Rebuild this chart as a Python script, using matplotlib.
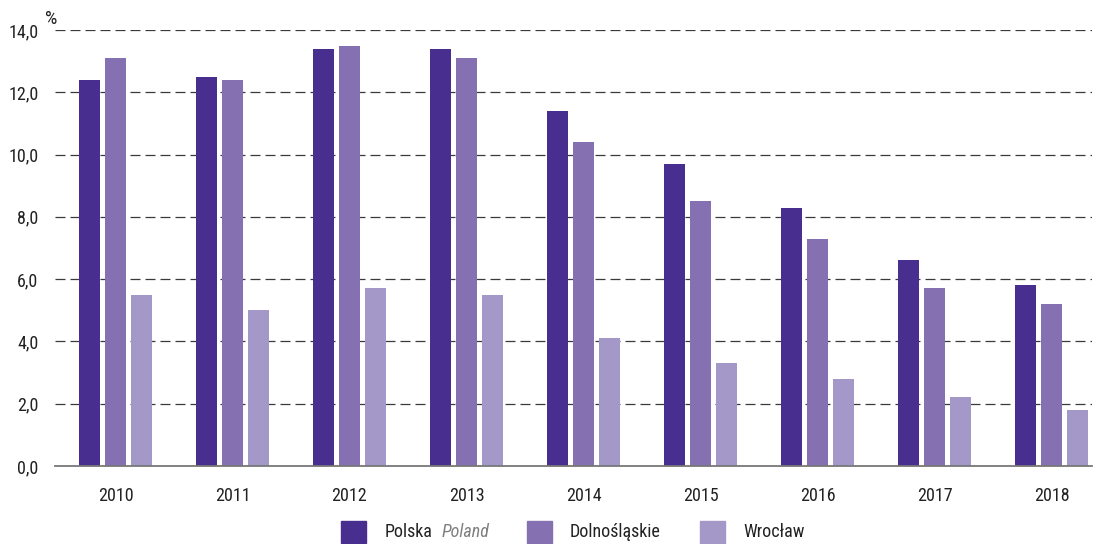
import matplotlib
matplotlib.use("Agg")
import matplotlib.pyplot as plt
import numpy as np
from matplotlib import font_manager as fm
from matplotlib.patches import Rectangle

years = ["2010", "2011", "2012", "2013", "2014", "2015", "2016", "2017", "2018"]
polska = [12.4, 12.5, 13.4, 13.4, 11.4, 9.7, 8.3, 6.6, 5.8]
dolnoslaskie = [13.1, 12.4, 13.5, 13.1, 10.4, 8.5, 7.3, 5.7, 5.2]
wroclaw = [5.5, 5.0, 5.7, 5.5, 4.1, 3.3, 2.8, 2.2, 1.8]
series_labels = ["Polska", "Dolnośląskie", "Wrocław"]
colors = ["#482E8F", "#8571B2", "#A498C8"]
yticks = [0, 2, 4, 6, 8, 10, 12, 14]

avail = {f.name for f in fm.fontManager.ttflist}
fam = "Roboto"
for cand in ["Roboto Condensed", "Liberation Sans Narrow", "Open Sans Condensed", "Roboto"]:
    if cand in avail:
        fam = cand
        break
plt.rcParams["font.family"] = [fam, "DejaVu Sans"]

W, H = 1096, 544
fig = plt.figure(figsize=(W / 100, H / 100), dpi=100)
ax = fig.add_axes([55 / W, 78 / H, 1037 / W, 436 / H])

x = np.arange(len(years))
w = 0.18
step = 0.222
for i, (vals, c, lab) in enumerate(zip([polska, dolnoslaskie, wroclaw], colors, series_labels)):
    ax.bar(x + (i - 1) * step, vals, width=w, color=c, label=lab, zorder=3)

ax.set_xlim(-0.517, 8.346)
ax.set_ylim(0, 14)
ax.set_yticks(yticks)
ax.set_yticklabels([f"{v:.1f}".replace(".", ",") for v in yticks], fontsize=13, color="#222222")
ax.set_xticks(x)
ax.set_xticklabels(years, fontsize=13, color="#222222")
ax.tick_params(length=0)
ax.tick_params(axis="y", pad=12)
ax.tick_params(axis="x", pad=15)
for v in yticks[1:]:
    ax.axhline(v, color="#3a3a3a", lw=0.9, ls=(0, (8, 4)), zorder=1)
for s in ["top", "right", "left"]:
    ax.spines[s].set_visible(False)
ax.spines["bottom"].set_color("#777777")
ax.spines["bottom"].set_linewidth(1.3)
ax.spines["bottom"].set_zorder(4)

fig.text(45 / W, 1 - 19 / H, "%", fontsize=14, color="#222222", va="center", ha="left")

# legend drawn manually in figure pixel positions
sq_x = [341, 527, 700]
txt_x = [385, 570, 743]
texts = []
for sx, tx, c, lab in zip(sq_x, txt_x, colors, series_labels):
    fig.add_artist(Rectangle((sx / W, (H - 543) / H), 25 / W, 22 / H,
                             transform=fig.transFigure, color=c))
    texts.append(fig.text(tx / W, (H - 532) / H, lab, fontsize=13, color="#222222",
                          va="center", ha="left"))
fig.canvas.draw()
bb = texts[0].get_window_extent(fig.canvas.get_renderer())
fig.text((bb.x1 + 9) / W, (H - 532) / H, "Poland", fontsize=13, style="italic",
         color="#7f7f7f", va="center", ha="left")

fig.savefig("out.png", dpi=100)
